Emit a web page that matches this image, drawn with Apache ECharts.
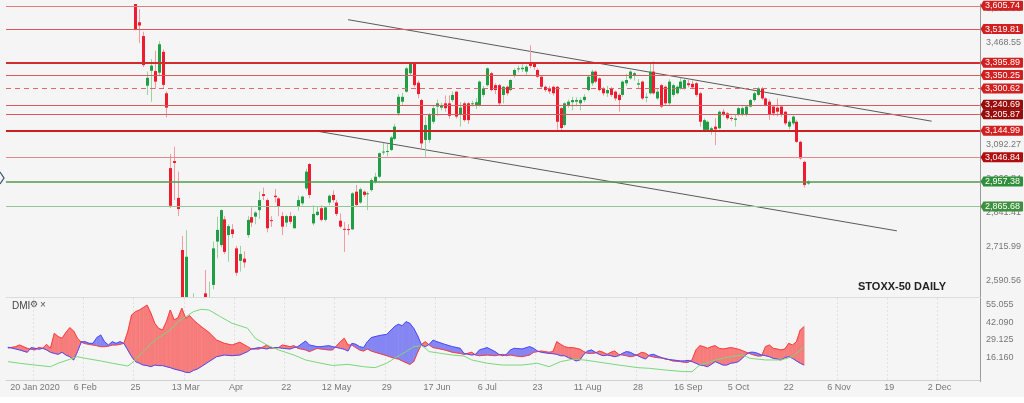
<!DOCTYPE html>
<html><head><meta charset="utf-8">
<script src="https://cdn.jsdelivr.net/npm/echarts@6/dist/echarts.min.js"></script>
<style>html,body{margin:0;padding:0;background:#f5f5f5;}#c{width:1024px;height:403px;}</style>
</head><body><div id="c"></div>
<script>
// ---------- DATA ----------
const holidays = ['2020-04-10','2020-04-13','2020-05-01','2020-12-24','2020-12-25'];
const xTickLabels = ['20 Jan 2020','6 Feb','25','13 Mar','Apr','22','12 May','29','17 Jun','6 Jul','23','11 Aug','28','16 Sep','5 Oct','22','6 Nov','19','2 Dec'];
const opens = [3770,3778,3776,3771,3783,3770,3777,3808,3799,3771,
3780,3740,3780,3677,3715,3722,3675,3640,3670,3730,
3796,3825,3799,3795,3834,3853,3840,3846,3852,3830,
3865,3829,3740,3660,3545,3494,3311,3366,3365,3359,
3436,3283,3007,3033,2897,2705,2480,2500,2420,2500,
2400,2545,2420,2576,2736,2723,2818,2760,2781,2711,
2665,2673,2760,2826,2828,2852,2911,2889,2815,2905,
2895,2830,2806,2830,2785,2865,2877,2932,3022,2803,
2834,2859,2816,2880,2908,2880,2813,2783,2782,2781,
2920,2880,2920,2912,2926,2957,2975,3066,3067,3074,
3115,3209,3252,3289,3357,3393,3322,3258,3111,3111,
3178,3234,3230,3246,3246,3258,3289,3205,3246,3246,
3244,3240,3240,3277,3313,3357,3313,3313,3277,3307,
3295,3350,3372,3372,3363,3391,3391,3369,3344,3307,
3302,3307,3307,3228,3166,3240,3250,3252,3246,3258,
3295,3320,3363,3338,3301,3283,3301,3289,3277,3277,
3320,3338,3350,3315,3326,3268,3283,3363,3264,3313,
3307,3246,3277,3283,3301,3301,3320,3318,3320,3283,
3148,3148,3141,3160,3154,3215,3209,3192,3185,3203,
3203,3203,3234,3258,3277,3301,3264,3252,3234,3230,
3234,3215,3160,3172,3178,3104,3030,2950];
const closes = [3778,3776,3771,3783,3770,3777,3808,3799,3771,3780,
3740,3780,3677,3715,3722,3675,3640,3670,3730,3796,
3825,3799,3795,3834,3853,3840,3846,3852,3830,3865,
3829,3800,3650,3519,3533,3387,3340,3385,3326,3464,
3314,3230,2868,3026,2856,2470,2680,2450,2530,2385,
2410,2490,2500,2711,2779,2852,2698,2793,2764,2621,
2690,2659,2816,2806,2843,2889,2904,2785,2812,2900,
2865,2791,2830,2809,2830,2889,2902,2994,2908,2838,
2846,2816,2862,2905,2889,2838,2791,2780,2779,2914,
2871,2929,2908,2914,2963,2975,3062,3068,3070,3120,
3160,3270,3270,3375,3393,3313,3280,3098,3166,3203,
3228,3246,3240,3228,3200,3277,3197,3230,3184,3184,
3246,3250,3326,3301,3375,3295,3295,3246,3307,3283,
3332,3369,3375,3377,3381,3384,3380,3344,3307,3295,
3290,3283,3178,3155,3246,3252,3258,3258,3258,3270,
3344,3363,3326,3295,3283,3295,3277,3264,3258,3326,
3332,3363,3357,3320,3264,3270,3363,3283,3289,3234,
3246,3326,3313,3307,3326,3332,3313,3305,3277,3178,
3184,3178,3154,3150,3215,3203,3191,3190,3190,3228,
3228,3234,3258,3283,3301,3264,3240,3203,3209,3215,
3203,3172,3178,3197,3104,3043,2945,2957];
const lows = [3760,3765,3762,3765,3755,3760,3775,3790,3760,3760,
3715,3735,3660,3670,3700,3650,3630,3635,3668,3728,
3790,3790,3780,3793,3830,3830,3830,3840,3820,3828,
3815,3790,3640,3515,3468,3380,3277,3252,3299,3350,
3299,3194,2860,2889,2830,2450,2400,2380,2350,2300,
2330,2440,2400,2560,2674,2715,2690,2662,2750,2610,
2625,2640,2750,2790,2800,2820,2889,2770,2790,2880,
2830,2760,2790,2800,2785,2850,2870,2925,2896,2795,
2830,2810,2810,2870,2880,2830,2785,2698,2760,2779,
2865,2875,2900,2852,2920,2950,2970,3055,3050,3070,
3110,3200,3240,3285,3350,3305,3265,3080,3049,3100,
3170,3200,3220,3215,3190,3250,3190,3160,3178,3170,
3235,3225,3235,3270,3308,3290,3280,3240,3246,3275,
3290,3340,3360,3362,3350,3375,3370,3340,3300,3288,
3280,3275,3148,3148,3160,3230,3220,3235,3220,3250,
3290,3310,3320,3290,3275,3270,3270,3255,3215,3270,
3310,3333,3330,3300,3258,3250,3278,3278,3258,3228,
3240,3240,3270,3278,3296,3296,3305,3298,3270,3160,
3140,3140,3130,3092,3150,3198,3185,3180,3160,3198,
3198,3198,3230,3252,3272,3258,3235,3185,3200,3197,
3195,3165,3150,3165,3100,3038,2935,2945];
const highs = [3785,3790,3782,3790,3786,3780,3810,3812,3800,3790,
3782,3790,3781,3725,3730,3725,3700,3680,3735,3800,
3830,3830,3805,3840,3860,3855,3850,3856,3855,3866,
3868,3833,3755,3670,3594,3510,3363,3409,3440,3475,
3445,3290,3059,3086,2994,2757,2778,2525,2545,2525,
2500,2631,2588,2736,2828,2855,2830,2800,2800,2720,
2720,2700,2830,2862,2848,2920,2935,2895,2830,2930,
2900,2845,2835,2845,2835,2905,2905,3005,3025,2870,
2865,2870,2865,2910,2925,2890,2840,2809,2800,2918,
2945,2935,2925,2920,2970,2990,3065,3100,3095,3125,
3170,3280,3285,3380,3398,3398,3330,3262,3197,3210,
3240,3260,3248,3275,3275,3290,3290,3250,3252,3250,
3255,3265,3330,3310,3378,3362,3320,3318,3310,3312,
3335,3375,3385,3390,3388,3460,3398,3375,3348,3312,
3310,3312,3310,3232,3250,3260,3270,3268,3268,3280,
3350,3370,3368,3342,3306,3310,3306,3293,3283,3330,
3355,3368,3362,3335,3330,3285,3393,3401,3300,3318,
3312,3335,3318,3312,3340,3336,3335,3330,3325,3288,
3190,3182,3160,3191,3220,3225,3214,3198,3203,3232,
3235,3238,3262,3288,3306,3306,3268,3260,3240,3264,
3240,3218,3185,3205,3185,3108,3034,2962];

const yTickValues = [2590.56,2715.99,2841.41,2966.84,3092.27,3217.69,3343.12,3468.55,3593.98];
const levels = [3605.74,3519.81,3395.89,3350.25,3300.62,3240.69,3205.87,3144.99,3046.84,2957.38,2865.68];
const upperTrend = [[88,3554.6],[239,3180.0]];
const lowerTrend = [[80,3143.2],[230,2775.5]];

const dmiIdx  = [0,2,3,5,6,7,8,9,10,11,12,13,14,15,16,17,18,19,20,21,22,23,24,25,26,27,28,29,30,31,32,33,34,35,36,37,38,39,40,41,42,43,44,45,46,47,48,49,50,52,54,56,58,60,62,63,65,67,68,70,71,73,74,75,77,78,80,81,83,84,86,87,88,89,90,91,92,93,94,96,98,100,101,102,103,104,105,106,107,108,109,110,111,113,115,117,118,120,121,122,124,126,127,128,129,130,131,133,135,136,137,138,140,141,142,143,144,145,146,147,148,149,150,151,152,153,154,155,156,157,158,159,160,161,162,163,164,165,166,167,168,170,172,174,175,176,177,178,179,180,181,182,183,184,185,186,187,188,189,190,191,192,193,194,195,196,197,198,199,200,201,202,203,204,205,206];
const diPlus  = [23.8,22.5,21.8,20.1,23.5,23.0,22.3,23.0,21.8,20.1,19.3,18.6,20.1,18.1,16.9,14.5,20.6,27.8,27.8,26.6,26.6,30.8,32.7,27.8,25.4,27.8,26.6,27.8,26.6,21.8,16.9,13.3,12.1,10.8,10.4,9.6,10.8,10.4,10.4,9.6,8.9,7.9,7.2,6.5,5.5,5.3,6.9,7.9,9.6,13.3,16.9,18.1,17.6,18.1,20.6,22.5,23.5,22.5,23.5,23.5,23.0,22.5,23.5,24.2,28.3,25.4,24.2,24.2,24.9,24.2,23.0,22.3,21.0,26.6,25.9,24.2,23.5,27.8,30.8,32.2,33.2,38.8,40.5,39.5,42.4,41.2,37.5,32.2,25.4,24.2,25.9,29.0,27.8,25.9,24.2,23.0,19.3,18.1,18.6,21.8,23.5,20.6,18.6,17.6,18.6,21.8,23.0,22.5,24.2,23.0,21.0,20.1,19.3,19.1,18.6,17.6,17.6,16.2,15.2,13.8,14.5,18.6,21.0,21.8,20.1,18.6,17.6,18.1,17.6,16.9,17.6,19.3,20.6,20.1,18.6,17.6,16.2,15.2,18.1,18.6,17.4,15.2,14.5,13.8,13.8,14.2,13.3,12.1,10.8,10.4,9.6,11.3,13.3,12.1,10.8,10.8,12.1,12.5,13.3,15.7,18.6,20.1,20.1,19.3,18.1,17.6,16.9,15.7,15.2,14.5,16.2,16.9,15.7,13.8,12.1,10.8];
const diMinus = [23.2,24.2,25.4,23.0,22.3,21.8,23.7,23.0,25.9,23.0,33.9,31.5,30.3,34.6,38.0,35.6,30.3,27.4,26.4,25.9,25.4,24.9,24.2,24.2,24.6,25.4,25.4,25.9,26.6,35.1,47.3,49.7,50.9,52.6,54.5,48.5,41.2,37.5,36.3,42.4,50.9,43.6,45.3,52.1,44.8,46.8,43.6,41.2,38.8,34.6,29.0,26.6,25.4,27.4,24.2,22.5,22.5,25.4,23.0,23.5,25.4,24.2,24.9,23.0,21.8,20.6,23.0,22.5,21.8,21.8,27.8,30.3,25.4,25.4,23.5,21.8,21.0,22.5,21.0,19.3,17.6,15.7,15.2,13.8,12.5,11.3,13.3,20.1,25.9,27.8,25.4,23.5,23.0,21.8,20.1,19.3,18.6,20.1,18.1,17.6,18.1,17.6,18.1,18.6,17.6,18.1,17.6,16.9,18.1,20.1,20.6,21.0,20.1,20.6,27.8,25.9,24.2,23.5,23.5,23.0,22.3,20.6,19.3,19.3,19.6,21.0,20.1,18.6,20.1,21.0,18.6,18.1,17.6,16.9,17.4,18.6,20.1,19.3,17.4,16.7,16.2,15.7,13.8,13.3,12.8,12.8,14.5,21.8,24.9,24.2,23.0,24.2,24.9,23.0,22.5,23.0,23.5,23.0,22.3,21.3,20.1,19.1,18.1,17.4,17.4,24.2,25.4,23.0,22.5,21.8,22.5,26.6,25.4,27.8,36.3,38.8];
const adxIdx = [0,3,7,11,13,16,18,20,24,27,31,32,35,38,42,44,46,48,50,52,55,58,62,64,67,70,74,77,81,84,88,92,95,98,100,103,105,107,108,109,112,115,118,120,124,128,133,137,140,143,146,149,152,158,163,166,170,175,177,179,183,187,190,192,196,200,203,206];
const adxVal = [13.3,12.1,10.8,9.6,12.1,15.0,16.9,15.7,13.8,12.1,10.1,12.1,20.6,29.0,36.3,42.4,46.0,49.7,51.4,50.9,46.0,41.2,37.6,30.3,25.4,21.8,18.1,14.5,12.1,10.5,11.3,9.6,8.9,12.1,15.7,20.6,24.2,24.9,23.0,20.6,19.3,18.1,17.4,14.5,12.1,10.8,10.8,12.1,9.6,13.3,15.0,14.5,13.3,10.8,8.9,8.4,7.2,6.0,6.0,10.8,14.5,16.9,18.1,15.7,14.5,14.5,16.9,24.2];
const dmiTicks = [16.16,29.125,42.09,55.055];

// ---------- BUILD ----------
const categories = [];
{ let d = new Date(Date.UTC(2020,0,9));
  while (categories.length < 252) {
    const wd = d.getUTCDay(), s = d.toISOString().slice(0,10);
    if (wd !== 0 && wd !== 6 && holidays.indexOf(s) < 0) categories.push(s);
    d.setUTCDate(d.getUTCDate()+1);
  } }
const candleData = opens.map((o,i)=>[i, o, closes[i], lows[i], highs[i]]);
const G='#1f9e45', R='#ee1c2e', WG='#98d3a0', WR='#f39aa2';
function renderCandle(params, api){
  const x=api.value(0), o=api.value(1), c=api.value(2), l=api.value(3), h=api.value(4);
  const po=api.coord([x,o]), pc=api.coord([x,c]), pl=api.coord([x,l]), ph=api.coord([x,h]);
  const up = c>=o;
  const cx = Math.round(po[0]);
  const top = Math.min(po[1],pc[1]);
  const hgt = Math.max(Math.abs(po[1]-pc[1]),1);
  return {type:'group',children:[
    {type:'line',shape:{x1:cx+0.5,y1:ph[1],x2:cx+0.5,y2:pl[1]},style:{stroke:up?WG:WR,lineWidth:1}},
    {type:'rect',shape:{x:cx-1,y:top,width:3,height:hgt},style:{fill:up?G:R}}
  ]};
}
const levelStyles = [
 {c:'#e27a7a',w:1,t:'solid',tag:'#d21f1f'},
 {c:'#d95a5a',w:1,t:'solid',tag:'#d21f1f'},
 {c:'#d22c2c',w:2,t:'solid',tag:'#d21f1f'},
 {c:'#d95a5a',w:1,t:'solid',tag:'#d21f1f'},
 {c:'#dc6a6a',w:1,t:[5,4],tag:'#d21f1f'},
 {c:'#d95a5a',w:1,t:'solid',tag:'#980c0c'},
 {c:'#d95a5a',w:1,t:'solid',tag:'#980c0c'},
 {c:'#cc2020',w:2,t:'solid',tag:'#d21f1f'},
 {c:'#e28a8a',w:1,t:'solid',tag:'#b10f0f'},
 {c:'#4f9a4f',w:1.5,t:'solid',tag:'#2f8f3a'},
 {c:'#96c496',w:1,t:'solid',tag:'#3e8f3e'}];
const fmt2 = v => Number(v).toLocaleString('en-US',{minimumFractionDigits:2,maximumFractionDigits:2});
const markData = levels.map((v,k)=>({yAxis:v,
  lineStyle:{color:levelStyles[k].c,width:levelStyles[k].w,type:levelStyles[k].t},
  label:{backgroundColor:levelStyles[k].tag}}));
const dmiSegs = [];
for (let k=0;k<dmiIdx.length-1;k++) dmiSegs.push([dmiIdx[k],diPlus[k],diMinus[k],dmiIdx[k+1],diPlus[k+1],diMinus[k+1]]);
const RED = '#f77c7c', BLUE = '#8585f4';
function renderFill(params, api){
  const i0=api.value(0),p0=api.value(1),m0=api.value(2),i1=api.value(3),p1=api.value(4),m1=api.value(5);
  const P0=api.coord([i0,p0]),M0=api.coord([i0,m0]),P1=api.coord([i1,p1]),M1=api.coord([i1,m1]);
  const d0=m0-p0,d1=m1-p1;
  const col = d => d>=0?RED:BLUE;
  const poly = (pts,c)=>({type:'polygon',shape:{points:pts},style:{fill:c,stroke:c,lineWidth:0.6}});
  if (d0*d1>=0) return {type:'group',children:[poly([P0,P1,M1,M0],col(d0!==0?d0:d1))]};
  const t = d0/(d0-d1);
  const C = [P0[0]+(P1[0]-P0[0])*t, P0[1]+(P1[1]-P0[1])*t];
  return {type:'group',children:[poly([P0,C,M0],col(d0)),poly([C,P1,M1],col(d1))]};
}
const labelIdx = idx => idx>=7 && (idx-7)%13===0 && (idx-7)/13 < xTickLabels.length;
const FONT = 'Liberation Sans, Arial, sans-serif';

const chart = echarts.init(document.getElementById('c'), null, {renderer:'canvas'});
const baseGraphics = [
    {type:'text',left:858,top:281,style:{text:'STOXX-50 DAILY',fill:'#222',font:'bold 11px '+FONT}},
    {type:'text',left:12,top:301,style:{text:'DMI',fill:'#444',font:'10px '+FONT}},
    {type:'text',left:30,top:300,style:{text:'⚙',fill:'#555',font:'9px DejaVu Sans'}},
    {type:'text',left:40,top:300,style:{text:'×',fill:'#555',font:'10px '+FONT}},
    {type:'polyline',shape:{points:[[0,172],[4,178],[0,184]]},style:{stroke:'#33506e',lineWidth:1.2,fill:null}},
    {type:'rect',shape:{x:0,y:397,width:1024,height:6},style:{fill:'#ffffff'}}
];
chart.setOption({
  animation:false,
  backgroundColor:'#f5f5f5',
  textStyle:{fontFamily:FONT},
  grid:[{left:6,right:44,top:4,height:293},{left:6,right:44,top:298,height:83.7}],
  xAxis:[
    {type:'category',gridIndex:0,data:categories,boundaryGap:true,
     axisLine:{show:true,lineStyle:{color:'#dcdcdc'}},axisTick:{show:false},axisLabel:{show:false},splitLine:{show:false}},
    {type:'category',gridIndex:1,data:categories,boundaryGap:true,
     axisLine:{show:true,lineStyle:{color:'#d0d0d0'}},axisTick:{show:false},
     axisLabel:{interval:(idx)=>labelIdx(idx),formatter:(v,idx)=>xTickLabels[(idx-7)/13],fontSize:9,color:'#777',margin:1,fontFamily:FONT},
     splitLine:{show:true,interval:(idx)=>labelIdx(idx),lineStyle:{color:'#e2e2e2',type:[2,2]}}}
  ],
  yAxis:[
    {type:'value',gridIndex:0,position:'right',min:2531.5,max:3612.4,
     axisLine:{show:true,lineStyle:{color:'#9a9a9a'}},axisTick:{show:false},splitLine:{show:false},
     axisLabel:{customValues:yTickValues,formatter:v=>fmt2(v),fontSize:9,color:'#777',margin:6,fontFamily:FONT}},
    {type:'value',gridIndex:1,position:'right',min:-1.33,max:59.64,
     axisLine:{show:true,lineStyle:{color:'#9a9a9a'}},axisTick:{show:false},splitLine:{show:false},
     axisLabel:{customValues:dmiTicks,formatter:v=>v.toFixed(3),fontSize:9,color:'#777',margin:6,fontFamily:FONT}}
  ],
  series:[
    {type:'line',xAxisIndex:0,yAxisIndex:0,data:upperTrend,showSymbol:false,symbol:'none',clip:true,z:1,
     lineStyle:{color:'#5a5a5a',width:1},
     markLine:{silent:true,symbol:['none','none'],animation:false,precision:2,
       label:{show:true,position:'end',distance:3,color:'#fff',fontSize:9,padding:[1,3,0,2],borderRadius:1,fontFamily:FONT,formatter:p=>fmt2(p.value)},
       data:markData}},
    {type:'line',xAxisIndex:0,yAxisIndex:0,data:lowerTrend,showSymbol:false,symbol:'none',clip:true,z:1,
     lineStyle:{color:'#5a5a5a',width:1}},
    {type:'custom',xAxisIndex:0,yAxisIndex:0,data:candleData,renderItem:renderCandle,clip:true,z:3,
     dimensions:['i','open','close','low','high'],encode:{x:0,y:[1,2,3,4]},silent:true},
    {type:'custom',xAxisIndex:1,yAxisIndex:1,data:dmiSegs,renderItem:renderFill,clip:true,
     dimensions:['i0','p0','m0','i1','p1','m1'],encode:{x:[0,3],y:[1,2,4,5]},silent:true},
    {type:'line',xAxisIndex:1,yAxisIndex:1,data:dmiIdx.map((i,k)=>[i,diMinus[k]]),showSymbol:false,symbol:'none',
     lineStyle:{color:'#ff3d3d',width:1},z:4},
    {type:'line',xAxisIndex:1,yAxisIndex:1,data:dmiIdx.map((i,k)=>[i,diPlus[k]]),showSymbol:false,symbol:'none',
     lineStyle:{color:'#4b4bff',width:1},z:4},
    {type:'line',xAxisIndex:1,yAxisIndex:1,data:adxIdx.map((i,k)=>[i,adxVal[k]]),showSymbol:false,symbol:'none',
     lineStyle:{color:'#79d879',width:1},z:5}
  ],
  graphic:baseGraphics
});
// small pointer triangles on the price tags, placed through the axis scale
const tagPointers = levels.map((v,k)=>{
  const y = chart.convertToPixel({yAxisIndex:0}, v);
  return {type:'polygon',z:100,shape:{points:[[980.5,y],[983.5,y-5],[983.5,y+5]]},style:{fill:levelStyles[k].tag}};
});
chart.setOption({graphic:baseGraphics.concat(tagPointers)}, {replaceMerge:['graphic']});
</script></body></html>
